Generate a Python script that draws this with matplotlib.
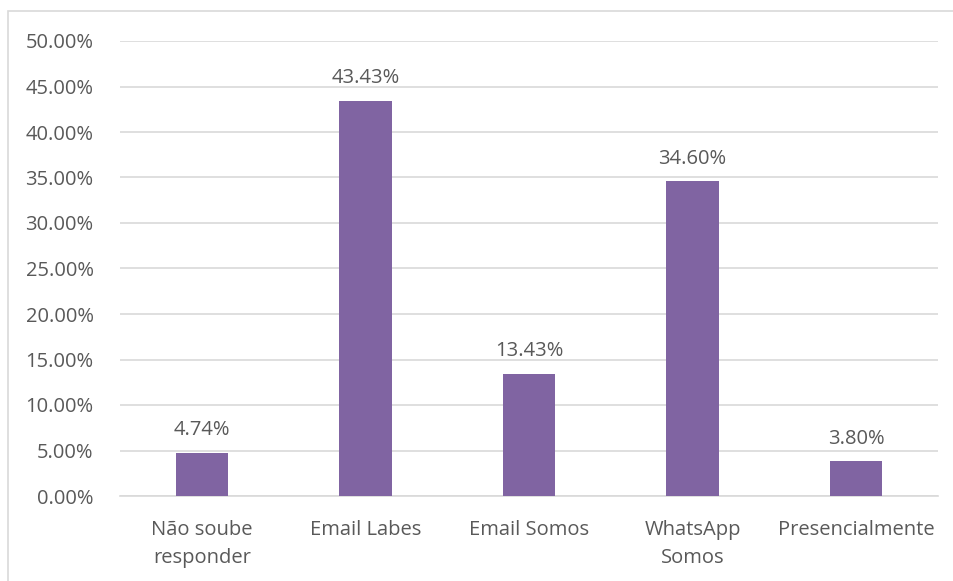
import matplotlib.pyplot as plt
from matplotlib.patches import Rectangle
from matplotlib.ticker import FuncFormatter, MultipleLocator

categories = ["Não soube\nresponder", "Email Labes", "Email Somos", "WhatsApp\nSomos", "Presencialmente"]
values = [0.0474, 0.4343, 0.1343, 0.3460, 0.0380]

bar_color = "#8064A2"
text_color = "#595959"
grid_color = "#D9D9D9"

plt.rcParams['font.family'] = ['Open Sans', 'DejaVu Sans']

fig = plt.figure(figsize=(9.54, 5.81), dpi=100)
ax = fig.add_axes([120 / 954, 1 - 496 / 581, 818 / 954, 455 / 581])

x = range(len(categories))
bars = ax.bar(x, values, width=0.32, color=bar_color, zorder=3)

for rect, v in zip(bars, values):
    ax.annotate(f"{v * 100:.2f}%", (rect.get_x() + rect.get_width() / 2, v),
                xytext=(0, 9), textcoords="offset points",
                ha="center", va="bottom", fontsize=14.5, color=text_color)

ax.set_xlim(-0.5, len(categories) - 0.5)
ax.set_ylim(0, 0.5)
ax.yaxis.set_major_locator(MultipleLocator(0.05))
ax.yaxis.set_major_formatter(FuncFormatter(lambda v, p: f"{v * 100:.2f}%"))
ax.set_xticks(list(x))
ax.set_xticklabels(categories, linespacing=1.55)
ax.tick_params(axis="both", length=0, labelsize=14.5, labelcolor=text_color)
ax.tick_params(axis="x", pad=17)
ax.tick_params(axis="y", pad=19)

ax.grid(axis="y", color=grid_color, linewidth=1.2, zorder=0)
for side in ["top", "right", "left"]:
    ax.spines[side].set_visible(False)
ax.spines["bottom"].set_color(grid_color)
ax.spines["bottom"].set_linewidth(1.2)

# chart area border (left and top edges visible)
fig.patches.append(Rectangle((8 / 954, -0.1), 1.2, 1 - 11 / 581 + 0.1,
                             transform=fig.transFigure, fill=False,
                             edgecolor=grid_color, linewidth=1.2))

fig.savefig("out.png", dpi=100)
